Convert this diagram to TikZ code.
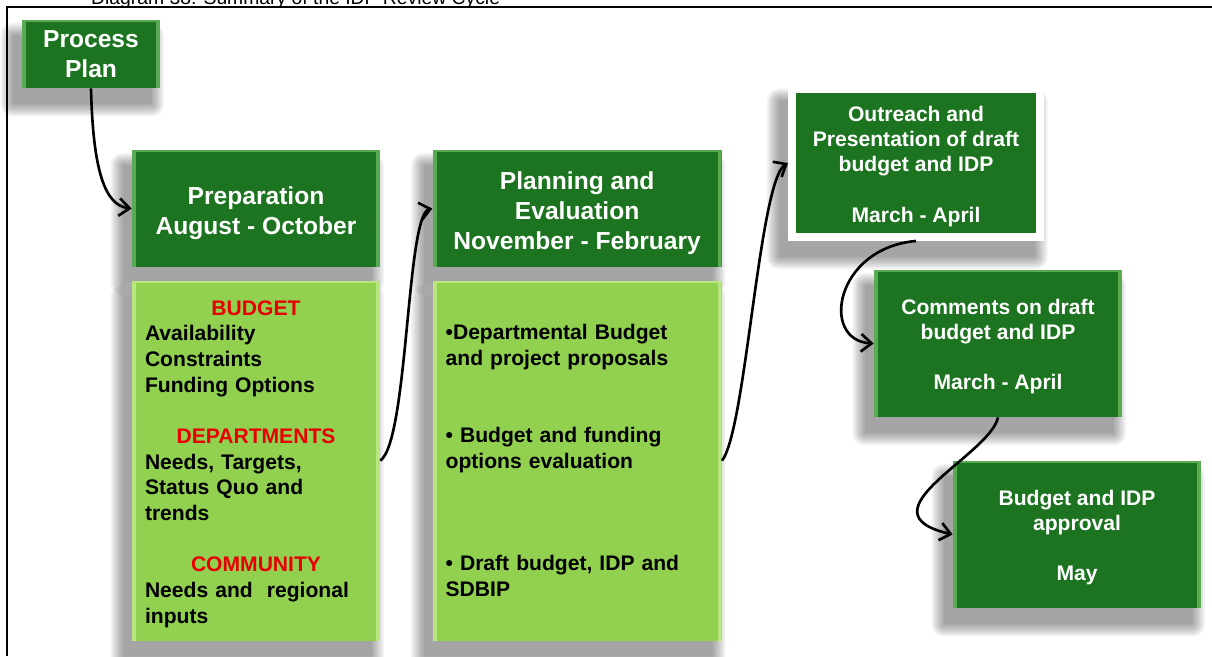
\documentclass[tikz,border=0pt]{standalone}
\usepackage{fontspec}
\setmainfont{Liberation Sans}
\usetikzlibrary{arrows.meta,positioning,backgrounds}
\definecolor{phaseGreen}{RGB}{28,116,32}
\definecolor{phaseEdge}{RGB}{90,170,84}
\definecolor{noteGreen}{RGB}{146,208,80}
\definecolor{noteEdge}{RGB}{186,230,130}
\definecolor{noteRed}{RGB}{232,0,0}
\newcommand\grouphead[1]{\makebox[\hsize]{\color{noteRed}#1}}
% push a text block down a little inside its box
\newcommand\topgap[1]{\rule{0pt}{\dimexpr\fontcharht\font`\A+#1\relax}}
% soft grey shadow, down and to the left of a node
\newcommand\boxshadow[1]{%
  \begin{pgfonlayer}{background}
    \foreach \g in {0,...,7}
      \fill[black, opacity=0.05, rounded corners=\g pt]
        ([shift={(-5pt-\g*1pt,-9pt-\g*1pt)}]#1.south west) rectangle
        ([shift={(-5pt+\g*1pt,-9pt+\g*1pt)}]#1.north east);
  \end{pgfonlayer}}
\tikzset{
  figHead/.style={font=\bfseries\fontsize{14}{17}\selectfont},
  figText/.style={font=\bfseries\fontsize{12}{14.6}\selectfont},
  bevel/.style={path picture={
      \fill[#1] (path picture bounding box.south west) rectangle
        ([xshift=2.2pt]path picture bounding box.north west);
      \fill[#1] (path picture bounding box.south east) rectangle
        ([xshift=-2.2pt]path picture bounding box.north east);
      \fill[#1] (path picture bounding box.north west) rectangle
        ([yshift=-1.1pt]path picture bounding box.north east);
  }},
  phase/.style={fill=phaseGreen, bevel=phaseEdge, text=white,
      align=center, figHead, inner sep=0pt},
  notes/.style={fill=noteGreen, bevel=noteEdge, text=black,
      figText, align=left, inner xsep=0.26cm, inner ysep=0pt,
      minimum height=7.2cm},
  stage/.style={fill=phaseGreen, bevel=phaseEdge, text=white,
      align=center, font=\bfseries\fontsize{12}{14.3}\selectfont,
      inner sep=0pt, minimum width=4.96cm, minimum height=2.94cm},
  flow/.style={line width=1.5pt, -{Straight Barb[length=6pt,width=10pt]}},
}

\begin{document}
\begin{tikzpicture}[x=0.02cm, y=-0.02cm]

  \useasboundingbox (0,0) rectangle (1212,656);
  \begin{pgfonlayer}{background}
    \fill[white] (0,0) rectangle (1212,656);
  \end{pgfonlayer}

  \node[font=\fontsize{11}{13}\selectfont, anchor=base west] (cap) at (85,4)
    {Diagram 38: Summary of the IDP Review Cycle};
  \draw[line width=1.6pt] (7,656) -- (7,7) -- (1212,7);

  \node[phase, minimum width=2.76cm, minimum height=1.36cm] (pp) at (91,54)
    {Process\\Plan};

  % first column
  \node[phase, minimum width=4.96cm, minimum height=2.34cm] (prep) at (256,208.5)
    {\topgap{5.6pt}Preparation\\August - October};
  \node[notes, text width=4.44cm, below=0.26cm of prep] (prepbody)
    {\topgap{4pt}\grouphead{BUDGET}\\
     Availability\\
     Constraints\\
     Funding Options\\[14.6pt]
     \grouphead{DEPARTMENTS}\\
     Needs, Targets,\\
     Status Quo and\\
     trends\\[14.6pt]
     \grouphead{COMMUNITY}\\
     Needs and\ \ regional\\
     inputs};

  % second column
  \node[phase, minimum width=5.78cm, minimum height=2.34cm, right=1.04cm of prep]
    (plan) {\topgap{5.6pt}Planning and\\Evaluation\\November - February};
  \node[notes, text width=5.26cm, below=0.26cm of plan] (planbody)
    {•Departmental Budget\\
     and project proposals\\[29.2pt]
     • Budget and funding\\
     options evaluation\\[43.8pt]
     • Draft budget, IDP and\\
     SDBIP};

  % right hand steps
  \node[stage, bevel=phaseGreen, draw=white, line width=0.16cm,
    minimum width=4.96cm, minimum height=2.96cm] (outreach) at (916,163)
    {\topgap{4.4pt}Outreach and\\Presentation of draft\\budget and IDP\\[14.3pt]March - April};
  \node[stage] (comments) at (998,343.5)
    {\topgap{4pt}Comments on draft\\budget and IDP\\[14.3pt]March - April};
  \node[stage] (approval) at (1077,534.5)
    {\topgap{4pt}Budget and IDP\\approval\\[14.3pt]May};

  \foreach \b in {pp,prep,prepbody,plan,planbody,outreach,comments,approval}
    \boxshadow{\b};

  \draw[flow] (pp.south) .. controls +(2,82) and +(-27,-3) .. (prep.west);
  \draw[flow] (prepbody.east) .. controls +(28,-20) and +(-26,6) .. (plan.west);
  \draw[flow] (planbody.east) .. controls +(24,-30) and +(-29,17) .. (outreach.west);
  \draw[flow] (outreach.south) .. controls +(-81,7) and +(-54,-3) .. (comments.west);
  \draw[flow] (comments.south) .. controls +(-8,38) and +(-95,-22) .. (approval.west);

\end{tikzpicture}
\end{document}
